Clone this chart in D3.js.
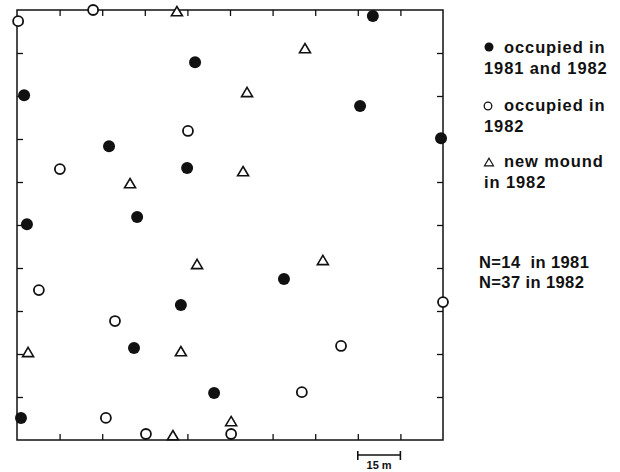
<!DOCTYPE html>
<html>
<head>
<meta charset="utf-8">
<script src="https://cdn.jsdelivr.net/npm/d3@7"></script>
<style>
  body { margin: 0; background: #fff; }
  svg { display: block; }
  .lbl { font-family: "Liberation Sans", Arial, sans-serif; font-weight: bold; fill: #111; }
  .ax path { display: none; }
  .ax line { stroke: #111; stroke-width: 1.3; }
</style>
</head>
<body>
<svg id="chart" width="620" height="472"></svg>
<script>
// positions in metres inside the 150 m x 150 m plot
var occupiedBoth = [
  [125.3, 147.9], [62.7, 131.8], [2.5, 120.3], [120.8, 116.5], [149.3, 105.3],
  [32.4, 102.5], [59.9, 94.9], [42.3, 77.8], [3.5, 75.3], [94.0, 56.2],
  [57.7, 47.1], [41.2, 32.1], [69.4, 16.4], [1.4, 7.7]
];
var occupied1982 = [
  [0.4, 146.1], [26.8, 150], [60.2, 107.8], [15.1, 94.5], [7.7, 52.3],
  [150, 48.1], [34.5, 41.5], [114.1, 32.8], [100.3, 16.7], [31.3, 7.7],
  [45.4, 2.1], [75.4, 2.1]
];
var newMounds = [
  [56.3, 149.6], [101.4, 136.7], [81.0, 121.4], [39.8, 89.6], [79.6, 93.8],
  [63.4, 61.4], [107.7, 62.8], [3.9, 30.7], [57.7, 31.0], [75.4, 6.6],
  [54.9, 1.7]
];
var tickValues = [15, 30, 45, 60, 75, 90, 105, 120, 135];
var legendLines = [
  ["occupied in", "1981 and 1982"],
  ["occupied in", "1982"],
  ["new mound", "in 1982"]
];
var countLines = ["N=14  in 1981", "N=37 in 1982"];
var scaleBarLabel = "15 m";

var svg = d3.select("#chart");
var plotL = 17, plotR = 443, plotT = 10, plotB = 440;

var x = d3.scaleLinear().domain([0, 150]).range([plotL, plotR]);
var y = d3.scaleLinear().domain([0, 150]).range([plotB, plotT]);

var tri = function (s) {
  var w = s / 2, h = s * 0.42;
  return "M0," + (-h) + "L" + w + "," + h + "L" + (-w) + "," + h + "Z";
};

// frame
svg.append("rect")
    .attr("x", plotL).attr("y", plotT)
    .attr("width", plotR - plotL).attr("height", plotB - plotT)
    .attr("fill", "none").attr("stroke", "#111").attr("stroke-width", 1.5);

// inward ticks on all four edges
var tk = 6;
svg.append("g").attr("class", "ax").attr("transform", "translate(0," + plotT + ")")
    .call(d3.axisBottom(x).tickValues(tickValues).tickSize(tk).tickFormat(""));
svg.append("g").attr("class", "ax").attr("transform", "translate(0," + plotB + ")")
    .call(d3.axisTop(x).tickValues(tickValues).tickSize(tk).tickFormat(""));
svg.append("g").attr("class", "ax").attr("transform", "translate(" + plotL + ",0)")
    .call(d3.axisRight(y).tickValues(tickValues).tickSize(tk).tickFormat(""));
svg.append("g").attr("class", "ax").attr("transform", "translate(" + plotR + ",0)")
    .call(d3.axisLeft(y).tickValues(tickValues).tickSize(tk).tickFormat(""));

// marks
svg.append("g").selectAll("circle").data(occupiedBoth).join("circle")
    .attr("cx", function (d) { return x(d[0]); })
    .attr("cy", function (d) { return y(d[1]); })
    .attr("r", 6)
    .attr("fill", "#111");

svg.append("g").selectAll("circle").data(occupied1982).join("circle")
    .attr("cx", function (d) { return x(d[0]); })
    .attr("cy", function (d) { return y(d[1]); })
    .attr("r", 5)
    .attr("fill", "#fff")
    .attr("stroke", "#111").attr("stroke-width", 1.8);

svg.append("g").selectAll("path").data(newMounds).join("path")
    .attr("transform", function (d) { return "translate(" + x(d[0]) + "," + y(d[1]) + ")"; })
    .attr("d", tri(11))
    .attr("fill", "#fff")
    .attr("stroke", "#111").attr("stroke-width", 1.6)
    .attr("stroke-linejoin", "miter");

// legend
var lg = svg.append("g");
var lgY = [53, 111, 167];
legendLines.forEach(function (lines, i) {
  lg.append("text").attr("class", "lbl")
      .attr("x", 504).attr("y", lgY[i])
      .attr("font-size", 16.5).attr("letter-spacing", 0.9)
      .text(lines[0]);
  lg.append("text").attr("class", "lbl")
      .attr("x", 484).attr("y", lgY[i] + 21)
      .attr("font-size", 16.5).attr("letter-spacing", 0.9)
      .text(lines[1]);
});
lg.append("circle").attr("cx", 489).attr("cy", 47).attr("r", 4.5).attr("fill", "#111");
lg.append("circle").attr("cx", 488).attr("cy", 106).attr("r", 3.8)
    .attr("fill", "none").attr("stroke", "#111").attr("stroke-width", 1.3);
lg.append("path").attr("transform", "translate(489,162)").attr("d", tri(9))
    .attr("fill", "none").attr("stroke", "#111").attr("stroke-width", 1.2);

// counts
svg.append("g").selectAll("text").data(countLines).join("text")
    .attr("class", "lbl")
    .attr("x", 479)
    .attr("y", function (d, i) { return 268 + i * 20; })
    .attr("font-size", 16.5).attr("letter-spacing", 0.4)
    .style("white-space", "pre")
    .text(function (d) { return d; });

// scale bar: one tick interval = 15 m
var sb = svg.append("g").attr("stroke", "#111").attr("stroke-width", 1.6);
sb.append("line").attr("x1", x(120)).attr("x2", x(135)).attr("y1", 455).attr("y2", 455);
sb.append("line").attr("x1", x(120)).attr("x2", x(120)).attr("y1", 451).attr("y2", 460);
sb.append("line").attr("x1", x(135)).attr("x2", x(135)).attr("y1", 451).attr("y2", 460);
svg.append("text").attr("class", "lbl")
    .attr("x", (x(120) + x(135)) / 2).attr("y", 469)
    .attr("text-anchor", "middle").attr("font-size", 11)
    .text(scaleBarLabel);
</script>
</body>
</html>
